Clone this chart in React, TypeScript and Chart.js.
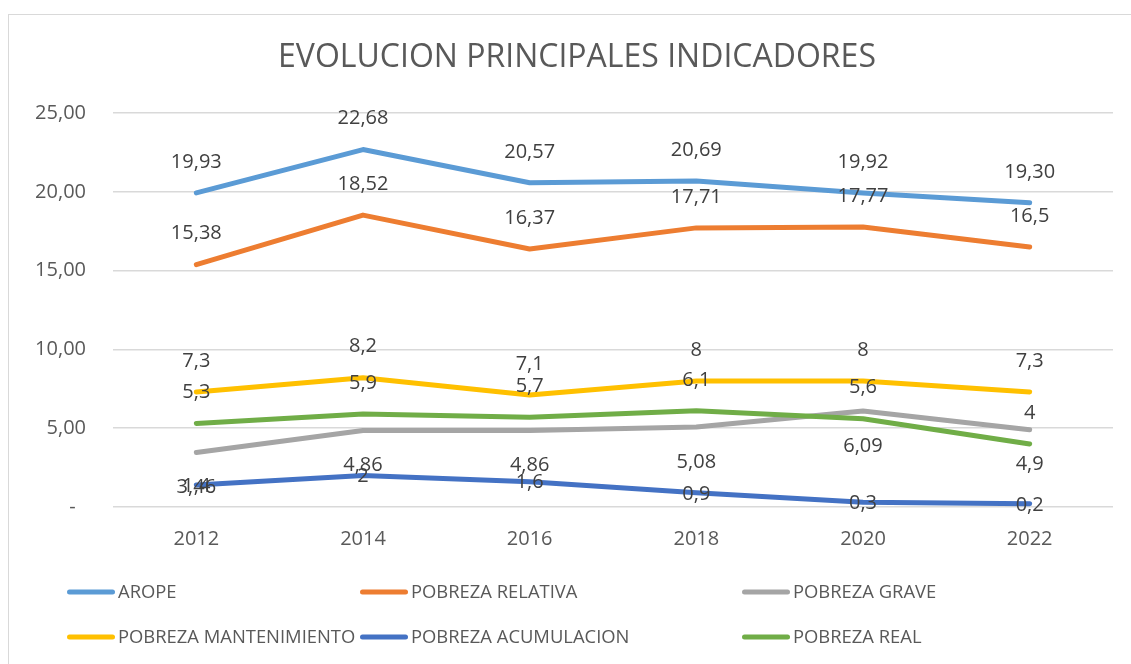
import React, { useEffect, useRef } from "react";
import { Chart, registerables } from "chart.js";

Chart.register(...registerables);

const categories = ["2012", "2014", "2016", "2018", "2020", "2022"];
const arope = [19.93, 22.68, 20.57, 20.69, 19.92, 19.3];
const pobrezaRelativa = [15.38, 18.52, 16.37, 17.71, 17.77, 16.5];
const pobrezaGrave = [3.46, 4.86, 4.86, 5.08, 6.09, 4.9];
const pobrezaMantenimiento = [7.3, 8.2, 7.1, 8, 8, 7.3];
const pobrezaAcumulacion = [1.4, 2, 1.6, 0.9, 0.3, 0.2];
const pobrezaReal = [5.3, 5.9, 5.7, 6.1, 5.6, 4];

const seriesNames = [
  "AROPE",
  "POBREZA RELATIVA",
  "POBREZA GRAVE",
  "POBREZA MANTENIMIENTO",
  "POBREZA ACUMULACION",
  "POBREZA REAL",
];
const seriesValues = [arope, pobrezaRelativa, pobrezaGrave, pobrezaMantenimiento, pobrezaAcumulacion, pobrezaReal];
const seriesColors = ["#5B9BD5", "#ED7D31", "#A5A5A5", "#FFC000", "#4472C4", "#70AD47"];
const labelPositions = ["above", "above", "below", "above", "center", "above"];
const labelDecimals: (number | null)[] = [2, null, null, null, null, null];
const yTickValues = [0, 5, 10, 15, 20, 25];

const TITLE = "EVOLUCION PRINCIPALES INDICADORES";
const FONT = "'Open Sans', sans-serif";

function fmt(v: number, dec: number | null) {
  const s = dec === null ? String(v) : v.toFixed(dec);
  return s.replace(".", ",");
}

const dataLabelPlugin = {
  id: "dataLabelsCustom",
  afterDatasetsDraw(chart: any) {
    const ctx = chart.ctx;
    ctx.save();
    ctx.font = `20px ${FONT}`;
    ctx.fillStyle = "#404040";
    ctx.textAlign = "center";
    ctx.textBaseline = "middle";
    chart.data.datasets.forEach((ds: any, i: number) => {
      const meta = chart.getDatasetMeta(i);
      meta.data.forEach((pt: any, j: number) => {
        const txt = fmt(ds.data[j], labelDecimals[i]);
        const pos = labelPositions[i];
        const dy = pos === "above" ? -31 : pos === "below" ? 35 : 1;
        ctx.fillText(txt, pt.x, pt.y + dy);
      });
    });
    ctx.restore();
  },
};

const titlePlugin = {
  id: "titleCustom",
  afterDraw(chart: any) {
    const ctx = chart.ctx;
    ctx.save();
    ctx.font = `32px ${FONT}`;
    ctx.fillStyle = "#595959";
    ctx.textAlign = "center";
    ctx.textBaseline = "middle";
    ctx.fillText(TITLE, 577, 58);
    ctx.restore();
  },
};

const legendCols = [67, 360, 742];
const legendRows = [592, 637];

const legendPlugin = {
  id: "legendCustom",
  afterDraw(chart: any) {
    const ctx = chart.ctx;
    ctx.save();
    ctx.font = `18.4px ${FONT}`;
    ctx.textBaseline = "middle";
    ctx.textAlign = "left";
    seriesNames.forEach((name, i) => {
      const x = legendCols[i % 3];
      const y = legendRows[Math.floor(i / 3)];
      ctx.strokeStyle = seriesColors[i];
      ctx.lineWidth = 5;
      ctx.lineCap = "round";
      ctx.beginPath();
      ctx.moveTo(x + 2.5, y);
      ctx.lineTo(x + 45.5, y);
      ctx.stroke();
      ctx.fillStyle = "#595959";
      ctx.fillText(name, x + 51, y + 1);
    });
    ctx.restore();
  },
};

export default function App() {
  const ref = useRef<HTMLCanvasElement | null>(null);

  useEffect(() => {
    if (!ref.current) return;
    const n = seriesNames.length;
    const chart = new Chart(ref.current, {
      type: "line",
      data: {
        labels: categories,
        datasets: seriesNames.map((name, i) => ({
          label: name,
          data: seriesValues[i],
          borderColor: seriesColors[i],
          backgroundColor: seriesColors[i],
          borderWidth: 5,
          pointRadius: 0,
          pointHoverRadius: 0,
          tension: 0,
          fill: false,
          borderCapStyle: "round" as const,
          borderJoinStyle: "round" as const,
          order: n - i,
        })),
      },
      options: {
        responsive: false,
        animation: false,
        layout: { padding: { left: 0, right: 18, top: 113, bottom: 117 } },
        plugins: {
          legend: { display: false },
          tooltip: { enabled: false },
          title: { display: false },
        },
        scales: {
          x: {
            offset: true,
            grid: { display: false, drawTicks: false },
            border: { display: false },
            ticks: { color: "#595959", font: { family: FONT, size: 20 }, padding: 20 },
            afterFit: (s: any) => {
              s.height = 40;
            },
          },
          y: {
            min: 0,
            max: 25,
            afterBuildTicks: (s: any) => {
              s.ticks = yTickValues.map((v) => ({ value: v }));
            },
            grid: { color: "#d9d9d9", lineWidth: 1.5, drawTicks: false },
            border: { display: false },
            ticks: {
              color: "#595959",
              font: { family: FONT, size: 20 },
              padding: 27,
              callback: (v: any) => (Number(v) === 0 ? "-  " : Number(v).toFixed(2).replace(".", ",")),
            },
            afterFit: (s: any) => {
              s.width = 113;
            },
          },
        },
      },
      plugins: [dataLabelPlugin, titlePlugin, legendPlugin],
    });
    return () => chart.destroy();
  }, []);

  return (
    <div style={{ position: "fixed", left: 0, top: 0, width: 1131, height: 664, background: "#fff", overflow: "hidden" }}>
      <div
        style={{
          position: "absolute",
          left: 8,
          top: 14,
          right: -10,
          bottom: -10,
          borderTop: "1px solid #d9d9d9",
          borderLeft: "1px solid #d9d9d9",
        }}
      />
      <canvas ref={ref} width={1131} height={664} style={{ position: "absolute", left: 0, top: 0, display: "block" }} />
    </div>
  );
}
